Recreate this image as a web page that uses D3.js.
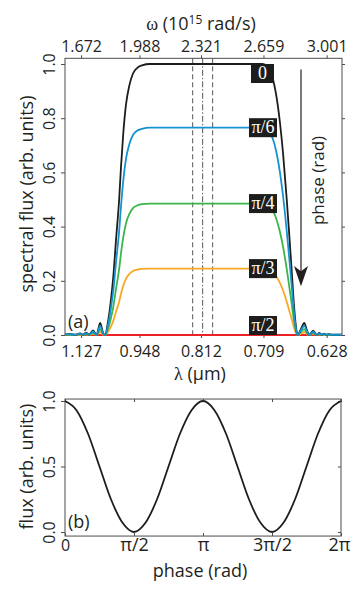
<!DOCTYPE html>
<html lang="en">
<head>
<meta charset="UTF-8">
<title>Spectral flux vs phase</title>
<script src="https://d3js.org/d3.v7.min.js"></script>
<style>
  body { margin: 0; background: #fff; }
  svg { display: block; font-family: "Open Sans", sans-serif; }
  .frame { fill: none; stroke: #4d4d4d; stroke-width: 1; }
  .axis path { display: none; }
  .axis line { stroke: #4d4d4d; }
  .axis text { font-family: "Open Sans", sans-serif; font-size: 16px; fill: #231f20; }
  .title { font-size: 17px; fill: #231f20; }
  .pi { font-family: "Liberation Serif", serif; }
</style>
</head>
<body>
<div id="chart"></div>
<script>
// ---- panel (a): spectral flux vs angular frequency (10^15 rad/s) ----
const omega = [1.585, 1.613, 1.640, 1.667, 1.683, 1.699, 1.715, 1.737, 1.756, 1.775,
               1.791, 1.802, 1.818, 1.832, 1.847, 1.861, 1.878, 1.888, 1.901, 1.915,
               1.933, 1.953, 1.975, 2.002, 2.045, 2.316, 2.651, 2.667, 2.683, 2.694,
               2.710, 2.727, 2.748, 2.765, 2.785, 2.797, 2.812, 2.824, 2.835, 2.843,
               2.862, 2.880, 2.894, 2.907, 2.928, 2.946, 2.961, 2.974, 2.986, 3.000,
               3.013, 3.030, 3.084];

const flux0 = [0.002, 0.003, 0.001, 0.006, 0.001, 0.009, 0.001, 0.017, 0.000, 0.045,
               0.008, 0.000, 0.050, 0.120, 0.220, 0.350, 0.500, 0.620, 0.750, 0.850,
               0.920, 0.965, 0.985, 0.995, 1.000, 1.000, 1.000, 0.998, 0.990, 0.977,
               0.945, 0.890, 0.785, 0.670, 0.500, 0.385, 0.235, 0.110, 0.030, 0.000,
               0.022, 0.045, 0.018, 0.000, 0.016, 0.001, 0.008, 0.001, 0.005, 0.001,
               0.003, 0.001, 0.001];

const fluxPi6 = [0.002, 0.002, 0.001, 0.005, 0.001, 0.007, 0.001, 0.013, 0.000, 0.034,
                 0.006, 0.000, 0.038, 0.092, 0.168, 0.268, 0.383, 0.474, 0.574, 0.650,
                 0.704, 0.738, 0.754, 0.761, 0.765, 0.765, 0.765, 0.763, 0.757, 0.747,
                 0.723, 0.681, 0.601, 0.513, 0.383, 0.295, 0.180, 0.084, 0.023, 0.000,
                 0.017, 0.034, 0.014, 0.000, 0.012, 0.001, 0.006, 0.001, 0.004, 0.001,
                 0.002, 0.001, 0.001];

const fluxPi4 = [0.001, 0.001, 0.000, 0.003, 0.000, 0.004, 0.000, 0.008, 0.000, 0.022,
                 0.004, 0.000, 0.024, 0.058, 0.107, 0.170, 0.243, 0.301, 0.364, 0.412,
                 0.446, 0.468, 0.478, 0.483, 0.485, 0.485, 0.485, 0.484, 0.480, 0.474,
                 0.458, 0.432, 0.381, 0.325, 0.243, 0.187, 0.114, 0.053, 0.015, 0.000,
                 0.011, 0.022, 0.009, 0.000, 0.008, 0.000, 0.004, 0.000, 0.002, 0.000,
                 0.001, 0.000, 0.000];

const fluxPi3 = [0.000, 0.001, 0.000, 0.001, 0.000, 0.002, 0.000, 0.004, 0.000, 0.011,
                 0.002, 0.000, 0.012, 0.029, 0.054, 0.086, 0.123, 0.152, 0.184, 0.208,
                 0.225, 0.236, 0.241, 0.244, 0.245, 0.245, 0.245, 0.245, 0.243, 0.239,
                 0.232, 0.218, 0.192, 0.164, 0.123, 0.094, 0.058, 0.027, 0.007, 0.000,
                 0.005, 0.011, 0.004, 0.000, 0.004, 0.000, 0.002, 0.000, 0.001, 0.000,
                 0.001, 0.000, 0.000];

const omegaPi2 = [1.585, 3.084];
const fluxPi2 = [0, 0];

const omegaTicks = [1.672, 1.988, 2.321, 2.659, 3.001];
const omegaLabels = ["1.672", "1.988", "2.321", "2.659", "3.001"];
const lambdaLabels = ["1.127", "0.948", "0.812", "0.709", "0.628"];
const fluxTicks = [0, 0.2, 0.4, 0.6, 0.8, 1.0];
const markerOmega = [2.276, 2.330, 2.384];
const markerDash = ["5,3", "6,2,1.5,2", "5,3"];

const phaseNames = ["0", "π/6", "π/4", "π/3", "π/2"];
const plateau = [1.0, 0.765, 0.485, 0.245, 0];

// ---- panel (b): total flux vs phase (phase in units of π) ----
const phase = [0, 0.083, 0.167, 0.25, 0.333, 0.417, 0.5, 0.583, 0.667, 0.75, 0.833, 0.917,
               1, 1.083, 1.167, 1.25, 1.333, 1.417, 1.5, 1.583, 1.667, 1.75, 1.833, 1.917, 2];
const fluxB = [1.00, 0.93, 0.75, 0.50, 0.25, 0.07, 0.00, 0.07, 0.25, 0.50, 0.75, 0.93,
               1.00, 0.93, 0.75, 0.50, 0.25, 0.07, 0.00, 0.07, 0.25, 0.50, 0.75, 0.93, 1.00];
const phaseTicks = [0, 0.5, 1, 1.5, 2];
const phaseTickLabels = ["0", "π/2", "π", "3π/2", "2π"];
const fluxBTicks = [0, 0.5, 1.0];

const W = 354, H = 589;
const svg = d3.select("#chart").append("svg").attr("width", W).attr("height", H);

const x = d3.scaleLinear().domain([1.585, 3.084]).range([65, 342]);
const yA = d3.scaleLinear().domain([0, 1]).range([335, 64]);

// frame (a)
svg.append("rect").attr("class", "frame")
    .attr("x", x.range()[0]).attr("y", yA(1.021))
    .attr("width", x.range()[1] - x.range()[0]).attr("height", yA(0) - yA(1.021));

// dashed markers
svg.selectAll(".marker")
    .data(markerOmega)
    .enter().append("line")
    .attr("x1", d => x(d)).attr("x2", d => x(d))
    .attr("y1", yA(1.021)).attr("y2", yA(0))
    .attr("stroke", "#555").attr("stroke-width", 1)
    .attr("stroke-dasharray", (d, i) => markerDash[i]);

// axes (a)
const leftA = svg.append("g").attr("class", "axis")
    .attr("transform", `translate(${x.range()[0]},0)`)
    .call(d3.axisLeft(yA).tickValues(fluxTicks).tickSize(4).tickFormat(d3.format(".1f")));
leftA.selectAll("text").attr("x", null).attr("dy", null)
    .attr("text-anchor", "middle").attr("transform", "translate(-10,0) rotate(-90)");

svg.append("g").attr("class", "axis")
    .attr("transform", `translate(${x.range()[1]},0)`)
    .call(d3.axisRight(yA).tickValues(fluxTicks).tickSize(3).tickFormat(""));

svg.append("g").attr("class", "axis")
    .attr("transform", `translate(0,${yA(1.021)})`)
    .call(d3.axisTop(x).tickValues(omegaTicks).tickSize(3).tickPadding(3)
        .tickFormat((d, i) => omegaLabels[i]));

svg.append("g").attr("class", "axis")
    .attr("transform", `translate(0,${yA(0)})`)
    .call(d3.axisBottom(x).tickValues(omegaTicks).tickSize(3).tickPadding(8)
        .tickFormat((d, i) => lambdaLabels[i]));

// curves (a)
const lineA = d3.line().x(d => x(d[0])).y(d => yA(d[1])).curve(d3.curveMonotoneX);
const series = [
    { xs: omegaPi2, ys: fluxPi2, color: "#ec2227" },
    { xs: omega, ys: fluxPi3, color: "#f9a825" },
    { xs: omega, ys: fluxPi4, color: "#3bb54a" },
    { xs: omega, ys: flux0, color: "#1d1d1b" },
    { xs: omega, ys: fluxPi6, color: "#1593d0" }
];
svg.selectAll(".curve")
    .data(series)
    .enter().append("path")
    .attr("class", "curve")
    .attr("fill", "none")
    .attr("stroke", d => d.color)
    .attr("stroke-width", 1.8)
    .attr("d", d => lineA(d.xs.map((v, i) => [v, d.ys[i]])));

// phase tags on the plateaus
const tags = svg.selectAll(".tag")
    .data(phaseNames)
    .enter().append("g")
    .attr("class", "tag")
    .attr("transform", (d, i) => {
        const yy = yA(plateau[i]);
        const ty = i === 0 ? yy : (i === phaseNames.length - 1 ? yy - 19 : yy - 9.5);
        return `translate(${i === 0 ? 251 : 249},${ty})`;
    });
tags.append("rect")
    .attr("width", (d, i) => i === 0 ? 23 : 28)
    .attr("height", 19)
    .attr("fill", "#1d1d1b");
tags.append("text")
    .attr("class", "pi")
    .attr("x", (d, i) => i === 0 ? 11.5 : 14)
    .attr("y", 15)
    .attr("text-anchor", "middle")
    .attr("fill", "#fff")
    .style("font-size", "18px")
    .text(d => d);

// phase arrow
svg.append("line")
    .attr("x1", 301).attr("x2", 301)
    .attr("y1", yA(0.98)).attr("y2", yA(0.19))
    .attr("stroke", "#231f20").attr("stroke-width", 1.2);
svg.append("path")
    .attr("d", `M294,${yA(0.255)} L301,${yA(0.18)} L308,${yA(0.255)} L301,${yA(0.235)} Z`)
    .attr("fill", "#231f20");
svg.append("text").attr("class", "title")
    .attr("transform", `translate(324,${yA(0.57)}) rotate(-90)`)
    .attr("text-anchor", "middle")
    .text("phase (rad)");

// titles (a)
const omegaTitle = svg.append("text").attr("class", "title")
    .attr("x", 201).attr("y", 30).attr("text-anchor", "middle")
    .style("font-size", "18px");
omegaTitle.append("tspan").attr("class", "pi").text("ω");
omegaTitle.append("tspan").text(" (10");
omegaTitle.append("tspan").attr("dy", -6).style("font-size", "12px").text("15");
omegaTitle.append("tspan").attr("dy", 6).text(" rad/s)");

const lambdaTitle = svg.append("text").attr("class", "title")
    .attr("x", 200).attr("y", 380).attr("text-anchor", "middle")
    .style("font-size", "18px");
lambdaTitle.append("tspan").attr("class", "pi").text("λ");
lambdaTitle.append("tspan").text(" (μm)");

svg.append("text").attr("class", "title")
    .attr("transform", `translate(33,${yA(0.52)}) rotate(-90)`)
    .attr("text-anchor", "middle")
    .style("font-size", "18px")
    .text("spectral flux  (arb. units)");

svg.append("text").attr("class", "title")
    .attr("x", 68).attr("y", 328).style("font-size", "18px").text("(a)");

// ---- panel (b) ----
const xB = d3.scaleLinear().domain([0, 2]).range([65, 341]);
const yB = d3.scaleLinear().domain([0, 1]).range([532, 401]);

svg.append("rect").attr("class", "frame")
    .attr("x", xB.range()[0]).attr("y", yB(1.015))
    .attr("width", xB.range()[1] - xB.range()[0]).attr("height", yB(-0.031) - yB(1.015));

const leftB = svg.append("g").attr("class", "axis")
    .attr("transform", `translate(${xB.range()[0]},0)`)
    .call(d3.axisLeft(yB).tickValues(fluxBTicks).tickSize(4).tickFormat(d3.format(".1f")));
leftB.selectAll("text").attr("x", null).attr("dy", null)
    .attr("text-anchor", "middle").attr("transform", "translate(-10,0) rotate(-90)");

svg.append("g").attr("class", "axis")
    .attr("transform", `translate(${xB.range()[1]},0)`)
    .call(d3.axisLeft(yB).tickValues(fluxBTicks).tickSize(3).tickFormat(""));

svg.append("g").attr("class", "axis")
    .attr("transform", `translate(0,${yB(1.015)})`)
    .call(d3.axisBottom(xB).tickValues(phaseTicks).tickSize(3).tickFormat(""));

const botB = svg.append("g").attr("class", "axis")
    .attr("transform", `translate(0,${yB(-0.031)})`)
    .call(d3.axisTop(xB).tickValues(phaseTicks).tickSize(3).tickFormat(""));
botB.selectAll(".tick").append("text")
    .attr("class", (d, i) => i === 0 ? null : "pi")
    .attr("y", 15)
    .attr("text-anchor", "middle")
    .attr("x", (d, i) => i === phaseTicks.length - 1 ? -2 : 0)
    .style("font-size", (d, i) => i === 0 ? "16px" : "18px")
    .text((d, i) => phaseTickLabels[i]);

const lineB = d3.line().x(d => xB(d[0])).y(d => yB(d[1])).curve(d3.curveMonotoneX);
svg.append("path")
    .attr("fill", "none")
    .attr("stroke", "#1d1d1b")
    .attr("stroke-width", 1.8)
    .attr("d", lineB(phase.map((p, i) => [p, fluxB[i]])));

svg.append("text").attr("class", "title")
    .attr("transform", `translate(33,${yB(0.5)}) rotate(-90)`)
    .attr("text-anchor", "middle")
    .style("font-size", "18px")
    .text("flux  (arb. units)");

svg.append("text").attr("class", "title")
    .attr("x", 200).attr("y", 577).attr("text-anchor", "middle")
    .style("font-size", "18px")
    .text("phase (rad)");

svg.append("text").attr("class", "title")
    .attr("x", 68).attr("y", 528).style("font-size", "18px").text("(b)");
</script>
</body>
</html>
